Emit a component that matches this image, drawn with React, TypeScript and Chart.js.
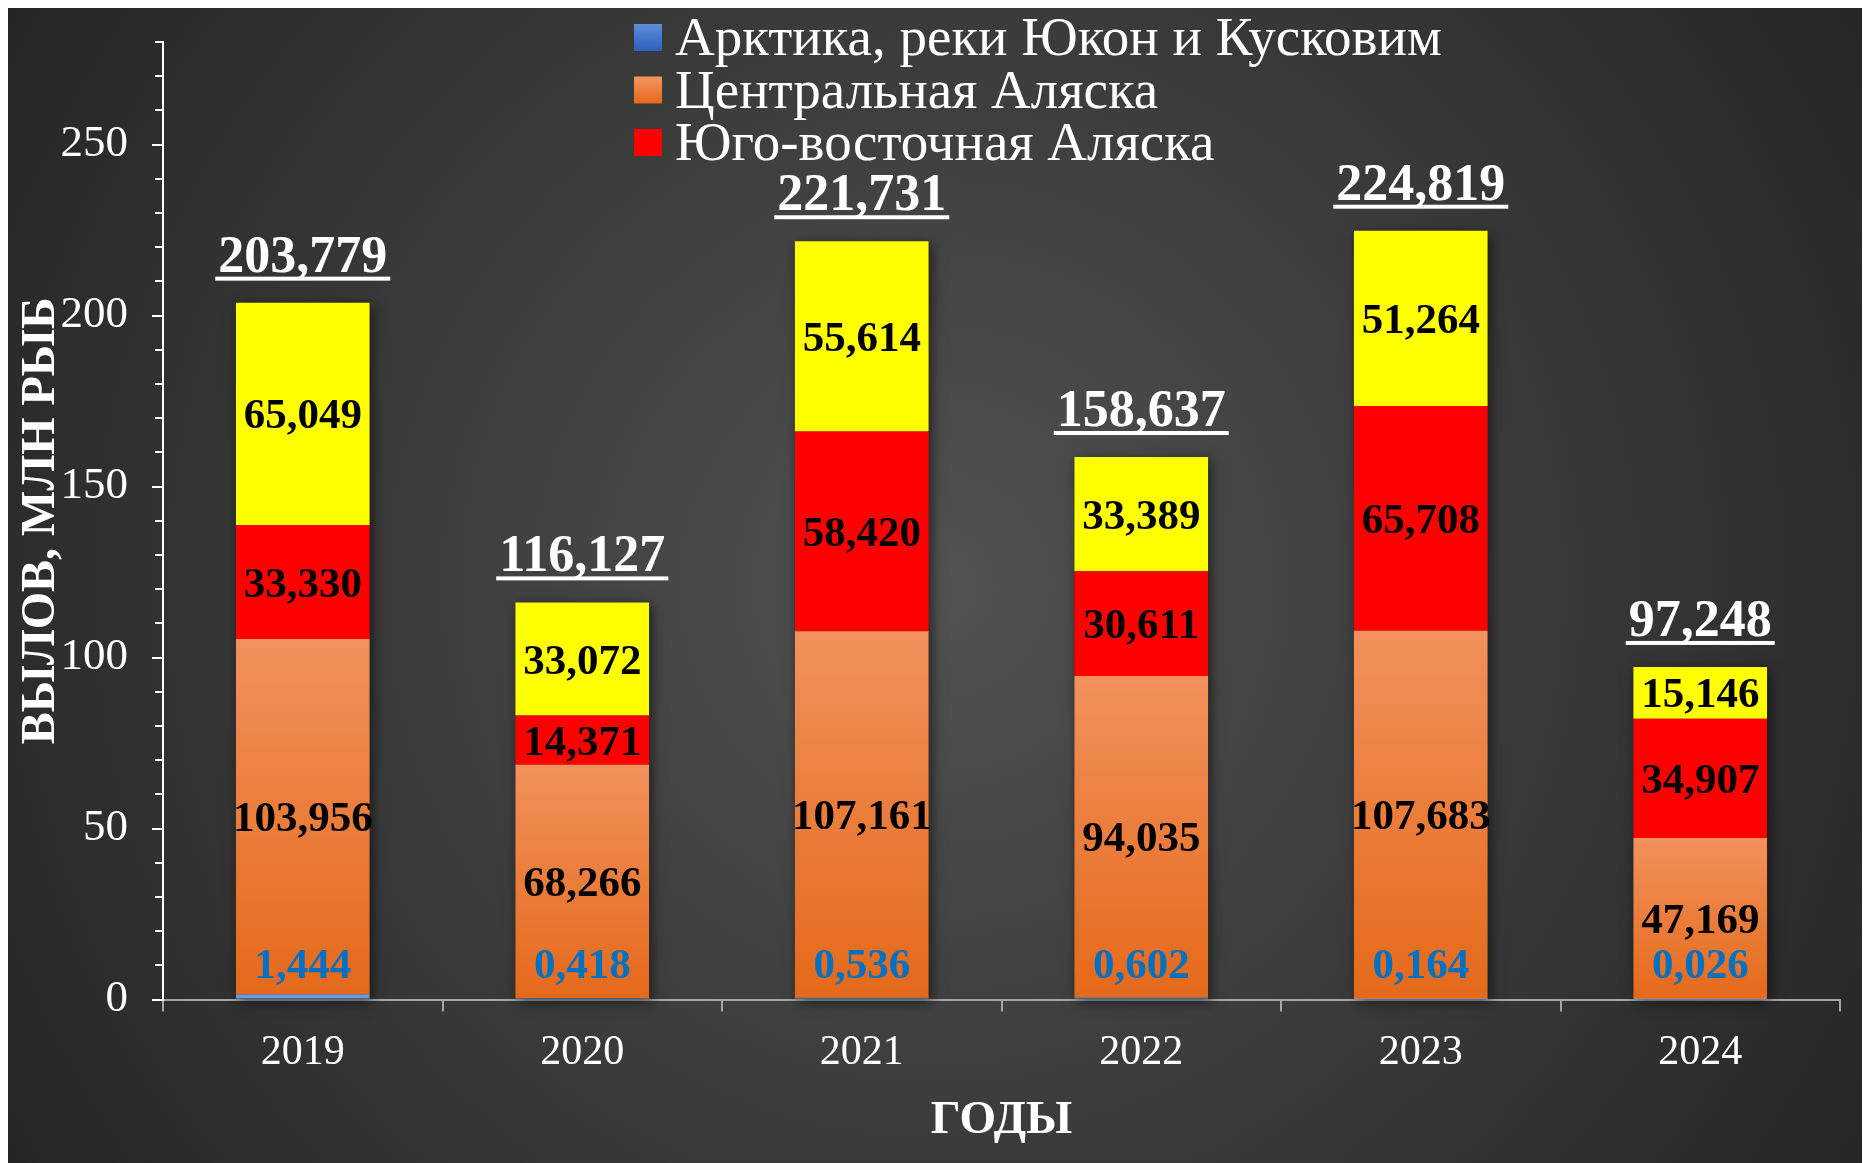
import React, { useEffect, useRef } from "react";
import { Chart, registerables } from "chart.js";

Chart.register(...registerables);

// ---- data (millions of fish) ----
const YEARS = ["2019", "2020", "2021", "2022", "2023", "2024"];
const ARCTIC = [1.444, 0.418, 0.536, 0.602, 0.164, 0.026];
const CENTRAL = [103.956, 68.266, 107.161, 94.035, 107.683, 47.169];
const SOUTHEAST = [33.33, 14.371, 58.42, 30.611, 65.708, 34.907];
const OTHER = [65.049, 33.072, 55.614, 33.389, 51.264, 15.146];
const SERIES_NAMES = [
  "Арктика, реки Юкон и Кусковим",
  "Центральная Аляска",
  "Юго-восточная Аляска",
  "",
];
const LEGEND_SERIES = [0, 1, 2];
const Y_MAX = 280;
const Y_STEP = 10;
const Y_LABEL_STEP = 50;
const Y_TITLE = "ВЫЛОВ, МЛН РЫБ";
const X_TITLE = "ГОДЫ";

const SERIF = '"Liberation Serif", "Times New Roman", serif';
const W = 1862;
const H = 1155;

const fmt = (v: number) => v.toFixed(3).replace(".", ",");

function vGrad(ctx: CanvasRenderingContext2D, top: number, bottom: number, c1: string, c2: string) {
  if (!isFinite(top) || !isFinite(bottom) || top === bottom) return c1;
  const g = ctx.createLinearGradient(0, top, 0, bottom);
  g.addColorStop(0, c1);
  g.addColorStop(1, c2);
  return g;
}

const bgPlugin = {
  id: "bg",
  beforeDraw(chart: any) {
    const ctx = chart.ctx as CanvasRenderingContext2D;
    const g = ctx.createRadialGradient(W / 2, H / 2, 0, W / 2, H / 2, 1100);
    g.addColorStop(0, "#525252");
    g.addColorStop(1, "#252525");
    ctx.save();
    ctx.fillStyle = g;
    ctx.fillRect(0, 0, W, H);
    ctx.restore();
  },
};

// shorter minor tick marks on the value axis
const minorTicksPlugin = {
  id: "minorTicks",
  afterDraw(chart: any) {
    const ys = chart.scales.y;
    const ctx = chart.ctx as CanvasRenderingContext2D;
    const xAxis = ys.right;
    ctx.save();
    ctx.strokeStyle = "#ffffff";
    ctx.lineWidth = 2;
    ys.ticks.forEach((t: any) => {
      if (t.value % Y_LABEL_STEP === 0) return;
      const py = Math.round(ys.getPixelForValue(t.value));
      ctx.beginPath();
      ctx.moveTo(xAxis - 8, py);
      ctx.lineTo(xAxis, py);
      ctx.stroke();
    });
    ctx.restore();
  },
};

const shadowPlugin = {
  id: "stackShadow",
  beforeDatasetsDraw(chart: any) {
    const ctx = chart.ctx as CanvasRenderingContext2D;
    const n = chart.data.datasets.length;
    const bottomMeta = chart.getDatasetMeta(0);
    const topMeta = chart.getDatasetMeta(n - 1);
    ctx.save();
    ctx.shadowColor = "rgba(0,0,0,0.55)";
    ctx.shadowBlur = 12;
    ctx.shadowOffsetX = 3;
    ctx.shadowOffsetY = 3;
    ctx.fillStyle = "#303030";
    bottomMeta.data.forEach((el: any, i: number) => {
      const t = topMeta.data[i];
      const x0 = el.x - el.width / 2;
      ctx.fillRect(x0, t.y, el.width, el.base - t.y);
    });
    ctx.restore();
  },
};

const labelsPlugin = {
  id: "segLabels",
  afterDatasetsDraw(chart: any) {
    const ctx = chart.ctx as CanvasRenderingContext2D;
    ctx.save();
    ctx.textAlign = "center";
    ctx.textBaseline = "middle";
    ctx.font = `bold 43px ${SERIF}`;
    chart.data.datasets.forEach((ds: any, di: number) => {
      const meta = chart.getDatasetMeta(di);
      meta.data.forEach((el: any, i: number) => {
        const v = ds.data[i] as number;
        let cy = (el.y + el.base) / 2 + 3.5;
        if (di === 0) {
          cy = el.base - 32;
          ctx.fillStyle = "#0070C0";
        } else {
          ctx.fillStyle = "#000000";
        }
        ctx.fillText(fmt(v), el.x, cy);
      });
    });
    // totals
    const n = chart.data.datasets.length;
    const topMeta = chart.getDatasetMeta(n - 1);
    ctx.font = `bold 52px ${SERIF}`;
    ctx.textBaseline = "alphabetic";
    ctx.fillStyle = "#ffffff";
    topMeta.data.forEach((el: any, i: number) => {
      let total = 0;
      chart.data.datasets.forEach((ds: any) => (total += ds.data[i] as number));
      const txt = fmt(total);
      const w = ctx.measureText(txt).width;
      ctx.fillText(txt, el.x, el.y - 31);
      ctx.fillRect(el.x - w / 2 - 3, el.y - 26, w + 6, 4);
    });
    ctx.restore();
  },
};

const legendPlugin = {
  id: "customLegend",
  afterDraw(chart: any) {
    const ctx = chart.ctx as CanvasRenderingContext2D;
    const boxX = 626;
    const textX = 667;
    const baselines = [47, 99.5, 152];
    ctx.save();
    ctx.font = `55px ${SERIF}`;
    ctx.textAlign = "left";
    ctx.textBaseline = "alphabetic";
    LEGEND_SERIES.forEach((si, k) => {
      const by = baselines[k];
      const top = by - 31;
      const ds = chart.data.datasets[si];
      let fill: any = ds.legendColor;
      if (Array.isArray(fill)) fill = vGrad(ctx, top, top + 27, fill[0], fill[1]);
      ctx.fillStyle = fill;
      ctx.fillRect(boxX, top, 28, 27);
      ctx.fillStyle = "#ffffff";
      ctx.fillText(ds.label, textX, by);
    });
    ctx.restore();
  },
};

export default function App() {
  const ref = useRef<HTMLCanvasElement | null>(null);

  useEffect(() => {
    document.documentElement.style.overflow = "hidden";
    const canvas = ref.current;
    if (!canvas) return;

    const orangeBg = (c: any) => {
      const chart = c.chart;
      const ys = chart.scales?.y;
      if (!ys || c.dataIndex === undefined || !chart.chartArea) return "#ED7D31";
      const i = c.dataIndex;
      const top = ys.getPixelForValue(ARCTIC[i] + CENTRAL[i]);
      const bottom = ys.getPixelForValue(0);
      return vGrad(chart.ctx, top, bottom, "#F2915C", "#E4691A");
    };

    const chart = new Chart(canvas, {
      type: "bar",
      data: {
        labels: YEARS,
        datasets: [
          { label: SERIES_NAMES[0], data: ARCTIC, backgroundColor: "#6A9AE4", legendColor: ["#5E8ED8", "#2C5FBD"] } as any,
          { label: SERIES_NAMES[1], data: CENTRAL, backgroundColor: orangeBg, legendColor: ["#F4955F", "#E5691C"] } as any,
          { label: SERIES_NAMES[2], data: SOUTHEAST, backgroundColor: "#FF0000", legendColor: "#FF0000" } as any,
          { label: SERIES_NAMES[3], data: OTHER, backgroundColor: "#FFFF00", legendColor: "#FFFF00" } as any,
        ].map((d) => ({ ...d, borderWidth: 0, barPercentage: 0.478, categoryPercentage: 1.0 })),
      },
      options: {
        responsive: false,
        devicePixelRatio: 1,
        animation: false,
        layout: { padding: { top: 34, right: 30, left: 0, bottom: 0 } },
        plugins: {
          legend: { display: false },
          tooltip: { enabled: false },
        },
        scales: {
          x: {
            stacked: true,
            offset: true,
            ticks: { color: "#ffffff", font: { family: SERIF, size: 42 }, padding: 16 },
            grid: {
              display: true,
              drawOnChartArea: false,
              drawTicks: true,
              tickLength: 12,
              color: "#a6a6a6",
              lineWidth: 2,
              offset: true,
            },
            border: { display: true, color: "#a6a6a6", width: 2 },
            title: {
              display: true,
              text: X_TITLE,
              color: "#ffffff",
              font: { family: SERIF, size: 47, weight: "bold", lineHeight: 1 },
              padding: { top: 0, bottom: 18.5 },
            },
            afterFit: (s: any) => {
              s.height = 163.5;
            },
          },
          y: {
            stacked: true,
            min: 0,
            max: Y_MAX,
            ticks: {
              stepSize: Y_STEP,
              autoSkip: false,
              color: "#ffffff",
              font: { family: SERIF, size: 45 },
              padding: 24,
              callback: (v: any) => (Number(v) % Y_LABEL_STEP === 0 ? String(v) : ""),
            },
            grid: {
              display: true,
              drawOnChartArea: false,
              drawTicks: true,
              tickLength: 11,
              color: "#ffffff",
              tickColor: (c: any) =>
                c.tick && c.tick.value % Y_LABEL_STEP === 0 ? "#ffffff" : "rgba(0,0,0,0)",
              lineWidth: 2,
            },
            border: { display: true, color: "#ffffff", width: 2 },
            title: {
              display: true,
              text: Y_TITLE,
              color: "#ffffff",
              font: { family: SERIF, size: 48, weight: "bold", lineHeight: 1 },
              padding: { top: 10, bottom: 0 },
            },
            afterFit: (s: any) => {
              s.width = 155;
              s.paddingTop = 0;
              s.paddingBottom = 0;
            },
          },
        },
      } as any,
      plugins: [bgPlugin, shadowPlugin, labelsPlugin, minorTicksPlugin, legendPlugin],
    });

    return () => chart.destroy();
  }, []);

  return (
    <div style={{ width: W, height: H }}>
      <canvas ref={ref} width={W} height={H} style={{ display: "block", width: W, height: H }} />
    </div>
  );
}
